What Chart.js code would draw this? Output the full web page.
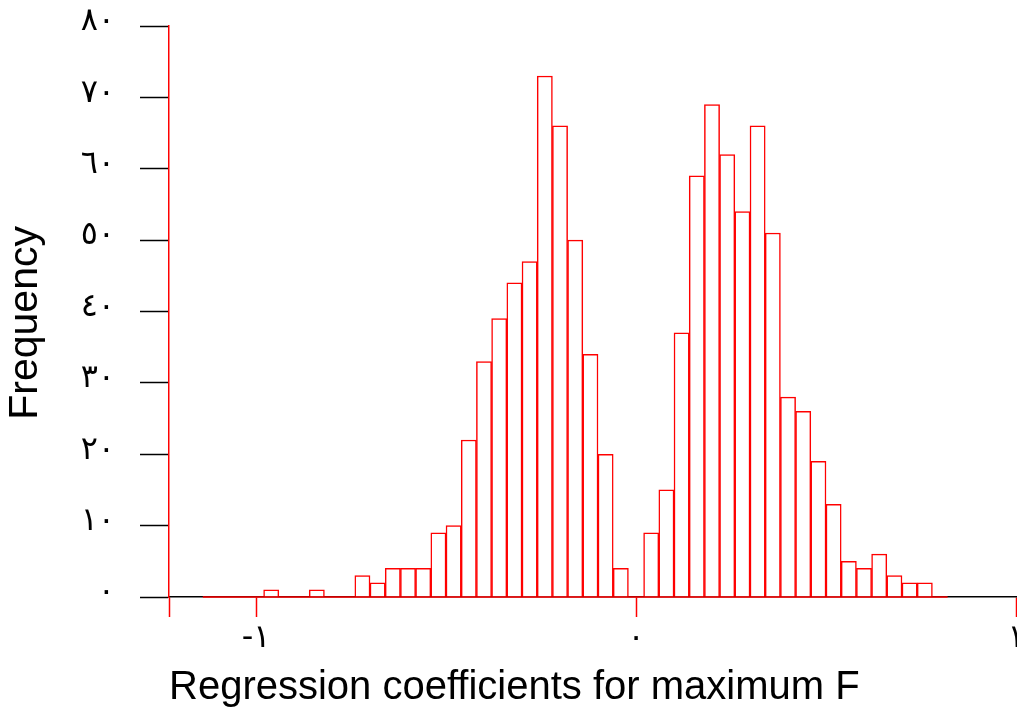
<!DOCTYPE html>
<html lang="en">
<head>
<meta charset="UTF-8">
<title>Regression coefficients histogram</title>
<style>
    html, body { margin: 0; padding: 0; background: #fff; overflow: hidden; }
    #chart { display: block; }
</style>
</head>
<body>
<canvas id="chart" width="1017" height="715"></canvas>

<script src="https://cdn.jsdelivr.net/npm/chart.js@4.4.1/dist/chart.umd.min.js"></script>
<script>
    // histogram bins (width 0.04)
    const binWidth = 0.04;
    const binCenters = [
        -1.12, -1.08, -1.04, -1.00, -0.96, -0.92, -0.88, -0.84, -0.80, -0.76,
        -0.72, -0.68, -0.64, -0.60, -0.56, -0.52, -0.48, -0.44, -0.40, -0.36,
        -0.32, -0.28, -0.24, -0.20, -0.16, -0.12, -0.08, -0.04, 0.00, 0.04,
        0.08, 0.12, 0.16, 0.20, 0.24, 0.28, 0.32, 0.36, 0.40, 0.44,
        0.48, 0.52, 0.56, 0.60, 0.64, 0.68, 0.72, 0.76, 0.80
    ];
    const counts = [
        0, 0, 0, 0, 1, 0, 0, 1, 0, 0,
        3, 2, 4, 4, 4, 9, 10, 22, 33, 39,
        44, 47, 73, 66, 50, 34, 20, 4, 0, 9,
        15, 37, 59, 69, 62, 54, 66, 51, 28, 26,
        19, 13, 5, 4, 6, 3, 2, 2, 0
    ];

    const xTicks = [-1, 0, 1];
    const yTicks = [0, 10, 20, 30, 40, 50, 60, 70, 80];
    const xMin = -1.229, xMax = 1;
    const xTitle = 'Regression coefficients for maximum F';
    const yTitle = 'Frequency';

    const arabicDigits = '٠١٢٣٤٥٦٧٨٩';
    function toArabic(v) {
        return String(v).replace(/\d/g, function (d) { return arabicDigits[d]; });
    }

    const bars = binCenters.map(function (c, i) { return {x: c, y: counts[i]}; });
    // red line along the base of the binned range
    const baseLine = [
        {x: binCenters[0] - binWidth / 2, y: 0},
        {x: binCenters[binCenters.length - 1] + binWidth / 2, y: 0}
    ];

    const ctx = document.getElementById('chart').getContext('2d');
    const chart = new Chart(ctx, {
        type: 'bar',
        data: {
            datasets: [{
                label: 'Frequency',
                data: bars,
                backgroundColor: '#ffffff',
                borderColor: '#ff0000',
                borderWidth: 1.5,
                borderSkipped: 'start',
                barPercentage: 1,
                categoryPercentage: 1,
                order: 2
            }, {
                type: 'line',
                data: baseLine,
                borderColor: '#ff0000',
                borderWidth: 1.5,
                pointRadius: 0,
                clip: false,
                order: 1
            }]
        },
        options: {
            responsive: false,
            animation: false,
            events: [],
            layout: { padding: { left: 0, right: 1, top: 26, bottom: 0 } },
            plugins: {
                legend: { display: false },
                tooltip: { enabled: false }
            },
            scales: {
                x: {
                    type: 'linear',
                    min: xMin,
                    max: xMax,
                    offset: false,
                    afterBuildTicks: function (s) {
                        s.ticks = [xMin].concat(xTicks).map(function (v) { return {value: v}; });
                    },
                    afterFit: function (s) {
                        s.paddingLeft = 0;
                        s.paddingRight = 0;
                        s.height = 118;
                    },
                    grid: {
                        offset: false,
                        drawOnChartArea: false,
                        tickLength: 20,
                        tickColor: '#ff0000',
                        tickWidth: 1.5
                    },
                    border: { color: '#000000', width: 1.5 },
                    ticks: {
                        autoSkip: false,
                        maxRotation: 0,
                        padding: 2,
                        color: '#000000',
                        font: { family: 'DejaVu Sans', size: 32 },
                        callback: function (v) {
                            return xTicks.indexOf(v) < 0 ? '' : toArabic(v);
                        }
                    },
                    title: {
                        display: true,
                        text: xTitle,
                        align: 'start',
                        color: '#000000',
                        font: { family: 'Liberation Sans', size: 40 },
                        padding: { top: 0, bottom: 3 }
                    }
                },
                y: {
                    min: 0,
                    max: 80,
                    afterBuildTicks: function (s) {
                        s.ticks = yTicks.map(function (v) { return {value: v}; });
                    },
                    afterFit: function (s) {
                        s.width = 169;
                        s.paddingTop = 0;
                        s.paddingBottom = 0;
                    },
                    grid: {
                        drawOnChartArea: false,
                        tickLength: 29,
                        tickColor: '#000000',
                        tickWidth: 1.5
                    },
                    border: { color: '#ff0000', width: 1.5 },
                    ticks: {
                        padding: 25,
                        labelOffset: -4,
                        color: '#000000',
                        font: { family: 'DejaVu Sans', size: 32 },
                        callback: function (v) { return toArabic(v); }
                    },
                    title: {
                        display: true,
                        // trailing spaces nudge the rotated title down a little
                        text: yTitle + '  ',
                        color: '#000000',
                        font: { family: 'Liberation Sans', size: 41 },
                        padding: { top: 1, bottom: 0 }
                    }
                }
            }
        }
    });
</script>
</body>
</html>
